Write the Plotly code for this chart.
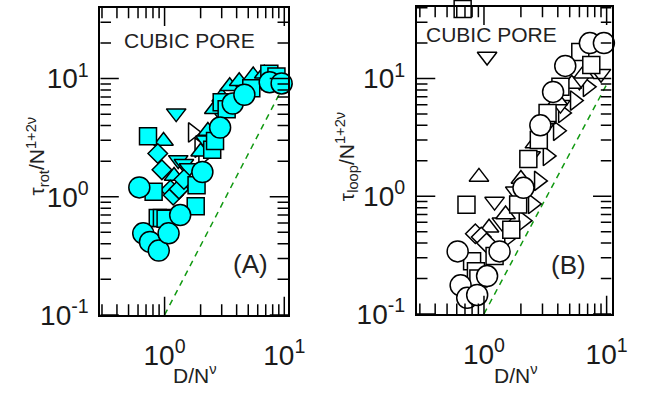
import math
import plotly.graph_objects as go

# ---------------- data ----------------
# Panel A: tau_rot / N^(1+2nu) vs D / N^nu  (filled cyan markers)
a_circle_x = [0.615, 0.663, 0.755, 0.894, 1.08, 1.35, 2.07, 2.91, 3.71, 4.64, 7.55, 9.5]
a_circle_y = [1.20, 0.49, 0.415, 0.35, 0.49, 0.70, 1.62, 3.85, 6.15, 7.3, 9.3, 9.1]
a_square_x = [0.727, 0.81, 0.877, 0.95, 1.02, 1.85, 1.82, 2.5, 2.64, 3.0, 3.3, 5.3, 7.5, 8.6]
a_square_y = [3.25, 1.1, 0.66, 0.66, 0.65, 1.25, 0.83, 2.5, 2.97, 6.3, 5.5, 8.3, 11.0, 10.4]
a_diamond_x = [0.877, 0.95, 1.12, 1.18, 1.32, 1.45]
a_diamond_y = [2.32, 1.69, 1.14, 1.03, 1.16, 1.4]
a_tup_x = [0.98, 1.2, 1.5, 2.0, 2.3, 2.6, 3.0, 3.5, 4.2, 5.5, 6.8, 8.4]
a_tup_y = [2.96, 1.5, 1.35, 2.4, 3.6, 5.5, 7.0, 8.6, 9.5, 10.6, 11.0, 10.8]
a_tdown_x = [1.25, 1.3, 1.45, 1.6, 2.2, 3.0, 4.5, 6.5]
a_tdown_y = [5.1, 2.05, 1.9, 1.75, 3.0, 5.0, 8.0, 9.5]
a_tright_x = [1.72, 1.95, 2.1, 2.4, 9.8, 11.0]
a_tright_y = [3.5, 2.6, 2.2, 3.0, 9.0, 8.6]

# Panel B: tau_loop / N^(1+2nu) vs D / N^nu  (open markers)
b_circle_x = [0.61, 0.645, 0.73, 0.88, 1.06, 1.34, 2.1, 2.88, 3.66, 4.6, 7.3, 9.5]
b_circle_y = [0.34, 0.175, 0.137, 0.145, 0.21, 0.34, 1.18, 4.0, 7.7, 12.8, 20.0, 20.0]
b_square_x = [0.67, 0.72, 0.8, 0.86, 0.9, 1.22, 1.67, 1.9, 2.3, 2.8, 3.3, 4.2, 6.1, 7.5]
b_square_y = [39.0, 0.845, 0.28, 0.23, 0.2, 0.31, 0.52, 0.85, 2.07, 3.0, 5.1, 8.5, 16.8, 13.0]
b_diamond_x = [0.85, 0.95, 1.05]
b_diamond_y = [0.48, 0.45, 0.40]
b_tup_x = [0.91, 1.1, 1.5, 2.0, 2.6, 3.2, 4.0, 5.2, 6.5]
b_tup_y = [1.46, 0.54, 0.7, 1.4, 2.8, 4.5, 6.5, 9.0, 11.0]
b_tdown_x = [1.06, 1.22, 1.4, 1.8, 2.4, 3.1, 4.2, 6.0, 9.0]
b_tdown_y = [15.4, 0.9, 0.6, 1.1, 2.2, 3.8, 6.0, 9.5, 11.0]
b_tright_x = [1.6, 2.1, 2.5, 2.8, 3.3, 4.0, 4.4, 5.5, 7.0, 12.0]
b_tright_y = [0.45, 0.62, 0.86, 1.35, 2.2, 3.6, 5.1, 6.5, 8.5, 10.0]

# guide line (dashed green), y = 0.1 x^1.95
guide_x = [1.0, 10.0]
guide_y = [0.1, 8.9]

x_tickvals = [1, 10]
x_ticktext = ["10<sup>0</sup>", "10<sup>1</sup>"]
y_tickvals = [0.1, 1, 10]
y_ticktext = ["10<sup>-1</sup>", "10<sup>0</sup>", "10<sup>1</sup>"]
x_minor = [0.3, 0.4, 0.5, 0.6, 0.7, 0.8, 0.9, 2, 3, 4, 5, 6, 7, 8, 9]
y_minor = [0.2, 0.3, 0.4, 0.5, 0.6, 0.7, 0.8, 0.9, 2, 3, 4, 5, 6, 7, 8, 9, 20, 30, 40]

CYAN = "#00FFFF"
FONT = "Liberation Sans, Arial, Helvetica, sans-serif"

W, H = 648, 401
# panel geometry in pixels: (left, right, top, bottom) and log ranges
PANELS = [
    dict(xa="x", ya="y", px=(103, 296, 8, 328), xr=[-0.537, 1.033], yr=[-1, 1.6]),
    dict(xa="x2", ya="y2", px=(428, 628, 7, 327), xr=[-0.548, 1.04], yr=[-1, 1.61]),
]

fig = go.Figure()


def add_series(x, y, symbol, size, fill, xa, ya):
    fig.add_trace(go.Scatter(
        x=x, y=y, mode="markers", xaxis=xa, yaxis=ya, cliponaxis=False,
        showlegend=False,
        marker=dict(symbol=symbol, size=size, color=fill,
                    line=dict(color="black", width=1.5)),
    ))


for xa, ya, data in [
    ("x", "y", [
        (a_tright_x, a_tright_y, "triangle-right", 17, "white"),
        (a_tdown_x, a_tdown_y, "triangle-down", 17, CYAN),
        (a_tup_x, a_tup_y, "triangle-up", 17, CYAN),
        (a_diamond_x, a_diamond_y, "diamond", 15, CYAN),
        (a_square_x, a_square_y, "square", 17, CYAN),
        (a_circle_x, a_circle_y, "circle", 21, CYAN),
    ]),
    ("x2", "y2", [
        (b_tright_x, b_tright_y, "triangle-right", 17, "white"),
        (b_tdown_x, b_tdown_y, "triangle-down", 17, "white"),
        (b_tup_x, b_tup_y, "triangle-up", 17, "white"),
        (b_diamond_x, b_diamond_y, "diamond", 15, "white"),
        (b_square_x, b_square_y, "square", 17, "white"),
        (b_circle_x, b_circle_y, "circle", 21, "white"),
    ]),
]:
    fig.add_trace(go.Scatter(
        x=guide_x, y=guide_y, mode="lines", xaxis=xa, yaxis=ya, showlegend=False,
        line=dict(color="#119911", width=1.5, dash="6px,5px"),
    ))
    for sx, sy, sym, sz, col in data:
        add_series(sx, sy, sym, sz, col, xa, ya)

# inside tick marks on all four sides, computed from the tick value lists
MAJOR_LEN, MINOR_LEN = 19, 11
for p in PANELS:
    l, r, t, b = p["px"]
    wpx, hpx = r - l, b - t
    x0l, x1l = p["xr"]
    y0l, y1l = p["yr"]
    tx, ty = [], []
    for vals, ln in [(x_tickvals, MAJOR_LEN), (x_minor, MINOR_LEN)]:
        dy = ln / hpx * (y1l - y0l)
        for v in vals:
            lv = math.log10(v)
            if not x0l <= lv <= x1l:
                continue
            tx += [v, v, None, v, v, None]
            ty += [10 ** y0l, 10 ** (y0l + dy), None, 10 ** y1l, 10 ** (y1l - dy), None]
    for vals, ln in [(y_tickvals, MAJOR_LEN), (y_minor, MINOR_LEN)]:
        dx = ln / wpx * (x1l - x0l)
        for v in vals:
            lv = math.log10(v)
            if not y0l <= lv <= y1l:
                continue
            tx += [10 ** x0l, 10 ** (x0l + dx), None, 10 ** x1l, 10 ** (x1l - dx), None]
            ty += [v, v, None, v, v, None]
    fig.add_trace(go.Scatter(
        x=tx, y=ty, mode="lines", xaxis=p["xa"], yaxis=p["ya"], showlegend=False,
        hoverinfo="skip", connectgaps=False, cliponaxis=False,
        line=dict(color="#000000", width=1.5),
    ))

axis_common = dict(
    type="log", showgrid=False, zeroline=False, showline=True,
    linecolor="#000000", linewidth=2, mirror=True, ticks="",
    tickfont=dict(family=FONT, size=28, color="#1a1a1a"),
    tickmode="array",
)

layout_axes = {}
for i, p in enumerate(PANELS):
    l, r, t, b = p["px"]
    sfx = "" if i == 0 else str(i + 1)
    layout_axes["xaxis" + sfx] = dict(
        axis_common, domain=[l / W, r / W], range=p["xr"], anchor=p["ya"],
        tickvals=x_tickvals, ticktext=x_ticktext, ticklabelstandoff=14)
    layout_axes["yaxis" + sfx] = dict(
        axis_common, domain=[1 - b / H, 1 - t / H], range=p["yr"], anchor=p["xa"],
        tickvals=y_tickvals, ticktext=y_ticktext, ticklabelstandoff=4)

fig.update_layout(
    width=W, height=H, margin=dict(l=0, r=0, t=0, b=0),
    paper_bgcolor="white", plot_bgcolor="white", **layout_axes,
)

txt = dict(family=FONT, color="#222222")
ann = [
    dict(text="CUBIC PORE", x=195, y=42, size=21, angle=0),
    dict(text="CUBIC PORE", x=505, y=36, size=21, angle=0),
    dict(text="(A)", x=257, y=275, size=26, angle=0),
    dict(text="(B)", x=584, y=276, size=26, angle=0),
    dict(text="D/N<sup>ν</sup>", x=200, y=390, size=21, angle=0),
    dict(text="D/N<sup>ν</sup>", x=530, y=390, size=21, angle=0),
    dict(text="τ<sub>rot</sub>/N<sup>1+2ν</sup>", x=38, y=163, size=21, angle=-90),
    dict(text="τ<sub>loop</sub>/N<sup>1+2ν</sup>", x=356, y=163, size=21, angle=-90),
]
for a in ann:
    fig.add_annotation(
        text=a["text"], xref="paper", yref="paper",
        x=a["x"] / W, y=1 - a["y"] / H, xanchor="center", yanchor="middle",
        showarrow=False, textangle=a["angle"], font=dict(txt, size=a["size"]),
    )

fig.write_html("out.html")
